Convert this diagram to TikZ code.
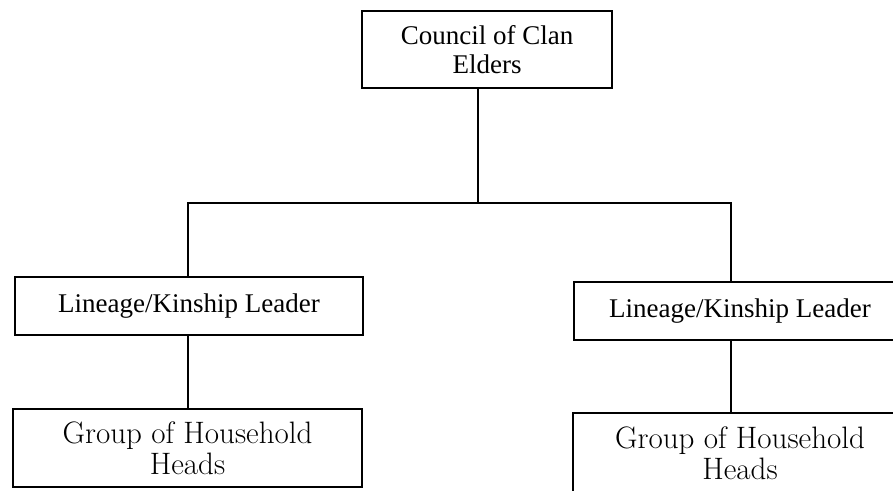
\documentclass[tikz,border=0pt]{standalone}
\usepackage{fontspec}
\newfontfamily\timesfont{Liberation Serif}
\tikzset{
  orgbox/.style={draw, line width=1.6pt, rectangle, inner sep=0pt, align=center},
  timestext/.style={font=\timesfont\fontsize{27}{29}\selectfont},
  schooltext/.style={font=\fontsize{31}{31}\selectfont},
  link/.style={line width=1.6pt}
}
\begin{document}
\begin{tikzpicture}[x=1pt, y=-1pt]
  \useasboundingbox (0,0) rectangle (893,490);

  % top of the hierarchy
  \node[orgbox, timestext, minimum width=250pt, minimum height=77pt] (council) at (487,49.5)
    {Council of Clan\\Elders};

  % second level
  \node[orgbox, timestext, minimum width=348pt, minimum height=58pt] (leadL) at (189,306)
    {Lineage/Kinship Leader};
  \node[orgbox, timestext, minimum width=332pt, minimum height=58pt] (leadR) at (740,311)
    {Lineage/Kinship Leader};

  % third level
  \node[orgbox, schooltext, minimum width=349pt, minimum height=78pt] (groupL) at (187.5,448)
    {Group of Household\\Heads};
  \node[orgbox, schooltext, minimum width=334pt, minimum height=80pt] (groupR) at (740,453)
    {Group of Household\\Heads};

  % branch points
  \coordinate (hub) at (478,203);
  \coordinate (brL) at (188,203);
  \coordinate (brR) at (731,203);

  % connectors
  \draw[link] (council.south -| hub) -- (hub);
  \draw[link] (leadL.north -| brL) -- (brL) -- (brR) -- (leadR.north -| brR);
  \draw[link] (leadL.south -| brL) -- (groupL.north -| brL);
  \draw[link] (leadR.south -| brR) -- (groupR.north -| brR);
\end{tikzpicture}
\end{document}
